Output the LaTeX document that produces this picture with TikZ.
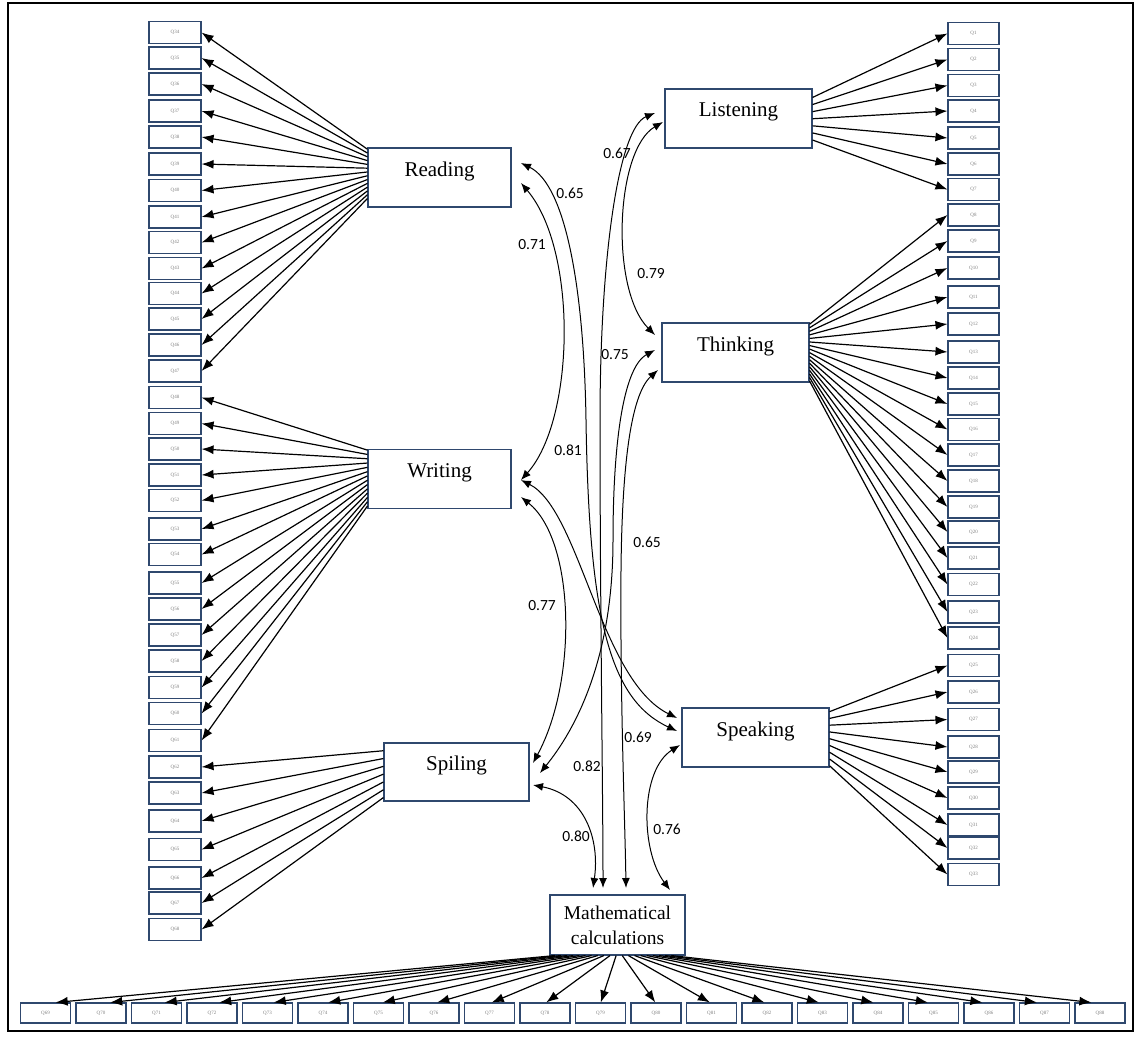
\documentclass[tikz,border=0pt]{standalone}
\usepackage{fontspec}
\setmainfont{Liberation Serif}
\newfontfamily\numfont{Carlito}
\usetikzlibrary{arrows.meta,calc}
\definecolor{boxc}{RGB}{47,72,110}
\begin{document}
\begin{tikzpicture}[x=1pt,y=-1pt,
  ind/.style={draw=boxc,line width=1.1pt,minimum width=52pt,minimum height=22pt,inner sep=0pt,font=\fontsize{5}{6}\selectfont,text=gray},
  indb/.style={ind,minimum width=50pt,minimum height=20pt},
  latbox/.style={draw=boxc,line width=1.1pt,minimum width=143pt,minimum height=59pt,inner sep=0pt,font=\fontsize{21}{25}\selectfont},
  latent/.style={latbox,text height=18pt,text depth=21pt},
  ld/.style={-{Latex[length=12pt,width=9pt]},line width=1.2pt},
  cor/.style={{Latex[length=10pt,width=8pt]}-{Latex[length=10pt,width=8pt]},line width=1pt},
  lab/.style={font=\numfont\fontsize{15.5}{18}\selectfont,inner sep=0pt}]

\useasboundingbox (0,0) rectangle (1139,1038);
\draw[line width=1.4pt] (8,3) rectangle (1133,1031);

% latent variables
\node[latent] (reading) at (439.5,177.5) {Reading};
\node[latent] (writing) at (439.5,479) {Writing};
\node[latent,minimum width=145pt,minimum height=58pt] (spiling) at (456.5,772) {Spiling};
\node[latent,minimum width=147pt] (listening) at (738.5,118.5) {Listening};
\node[latent,minimum width=147pt] (thinking) at (735.5,352.5) {Thinking};
\node[latent,minimum width=147pt] (speaking) at (755.5,737.5) {Speaking};
\node[latbox,minimum width=135pt,minimum height=60pt,align=center,font=\fontsize{19.5}{25}\selectfont] (math) at (617.5,925) {Mathematical\\calculations};

% left indicators
\foreach \n/\y in {34/32.5,35/58,36/84,37/111,38/137,39/164,40/190.5,41/217,42/242.5,43/268.5,44/293.5,45/319,46/345,47/371,48/397.5,49/423.5,50/449,51/475,52/500.5,53/529,54/554.5,55/583,56/609,57/635,58/661,59/687.5,60/713.5,61/740.5,62/767,63/793,64/821,65/849.5,66/878,67/903,68/929.5}
  \node[ind] (q\n) at (175,\y) {Q\n};

% right indicators
\foreach \n/\y in {1/33.5,2/59.5,3/85.5,4/111,5/138,6/164,7/189.5,8/215,9/241,10/268,11/297,12/324,13/352,14/378,15/404,16/429.5,17/455,18/481,19/507,20/532,21/558,22/584.5,23/612,24/638,25/665.5,26/692,27/719.5,28/747,29/772,30/798,31/825,32/848,33/874.5}
  \node[ind,minimum width=51pt] (q\n) at (973.5,\y) {Q\n};

% bottom indicators
\foreach \n [count=\i from 0] in {69,...,88}{
  \pgfmathsetmacro\x{45.5+\i*55.5}
  \node[indb] (q\n) at (\x,1013) {Q\n};}

% loadings
\foreach \n [count=\i from 0] in {34,...,47}{
  \pgfmathsetmacro\f{0.03+\i*0.063}
  \draw[ld] ($(reading.north west)!\f!(reading.south west)$) -- (q\n.east);}
\foreach \n [count=\i from 0] in {48,...,61}{
  \pgfmathsetmacro\f{0.02+\i*0.0715}
  \draw[ld] ($(writing.north west)!\f!(writing.south west)$) -- (q\n.east);}
\foreach \n [count=\i from 0] in {62,...,68}{
  \pgfmathsetmacro\f{0.14+\i*0.132}
  \draw[ld] ($(spiling.north west)!\f!(spiling.south west)$) -- (q\n.east);}
\foreach \n [count=\i from 0] in {1,...,7}{
  \pgfmathsetmacro\f{0.15+\i*0.118}
  \draw[ld] ($(listening.north east)!\f!(listening.south east)$) -- (q\n.west);}
\foreach \n [count=\i from 0] in {8,...,24}{
  \pgfmathsetmacro\f{0.03+\i*0.059}
  \draw[ld] ($(thinking.north east)!\f!(thinking.south east)$) -- (q\n.west);}
\foreach \n [count=\i from 0] in {25,...,33}{
  \pgfmathsetmacro\f{0.07+\i*0.1125}
  \draw[ld] ($(speaking.north east)!\f!(speaking.south east)$) -- (q\n.west);}
\foreach \n [count=\i from 0] in {69,...,88}{
  \pgfmathsetmacro\f{0.04+\i*0.045}
  \pgfmathsetmacro\s{0.02*(555+\i*6.05-45.5-\i*55.5)}
  \draw[ld] ($(math.south west)!\f!(math.south east)$) -- ($(q\n.north)+(\s,0)$);}

% correlation end points
\coordinate (R1) at (521,163);
\coordinate (R2) at (521,183);
\coordinate (W1) at (521,480);
\coordinate (W2) at (521,497);
\coordinate (S1) at (533,763);
\coordinate (S2) at (540,773);
\coordinate (S3) at (533,785);
\coordinate (L1) at (655,113);
\coordinate (L2) at (663,122);
\coordinate (T1) at (655,335);
\coordinate (T2) at (655,350);
\coordinate (T3) at (658,370);
\coordinate (K1) at (677,718);
\coordinate (K2) at (677,731);
\coordinate (K3) at (680,745);
\coordinate (M1) at (593,888);
\coordinate (M2) at (603,888);
\coordinate (M3) at (626,888);
\coordinate (M4) at (670,890);

% correlations
\draw[cor] (R2) .. controls (578,250) and (575,420) .. (W1);
\draw[cor] (R1) .. controls (566,185) and (584,290) .. (586,420) .. controls (589,620) and (610,700) .. (K2);
\draw[cor] (W1) .. controls (580,510) and (600,680) .. (K1);
\draw[cor] (W2) .. controls (575,540) and (578,680) .. (S1);
\draw[cor] (L2) .. controls (615,150) and (610,290) .. (T1);
\draw[cor] (L1) .. controls (618,128) and (600,260) .. (600,420) .. controls (600,600) and (603,800) .. (M2);
\draw[cor] (T2) .. controls (622,368) and (613,450) .. (613,540) .. controls (613,660) and (575,730) .. (S2);
\draw[cor] (T3) .. controls (630,395) and (622,470) .. (621,570) .. controls (620,700) and (625,820) .. (M3);
\draw[cor] (S3) .. controls (585,795) and (600,840) .. (M1);
\draw[cor] (K3) .. controls (640,770) and (640,850) .. (M4);

% labels
\node[lab] (c1) at (570,193) {0.65};
\node[lab] (c2) at (532,245) {0.71};
\node[lab] (c3) at (617,153) {0.67};
\node[lab] (c4) at (651,274) {0.79};
\node[lab] (c5) at (615,355) {0.75};
\node[lab] (c6) at (568,450) {0.81};
\node[lab] (c7) at (647,542) {0.65};
\node[lab] (c8) at (542,606) {0.77};
\node[lab] (c9) at (587,766) {0.82};
\node[lab] (c10) at (638,737) {0.69};
\node[lab] (c11) at (576,836) {0.80};
\node[lab] (c12) at (667,829) {0.76};
\end{tikzpicture}
\end{document}
